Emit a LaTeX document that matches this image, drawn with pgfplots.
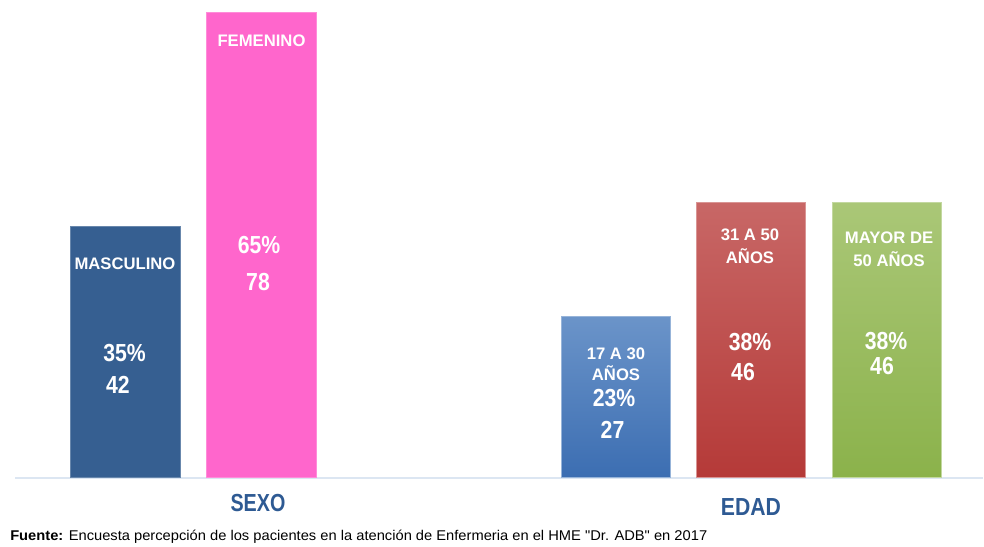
\documentclass[border=0pt]{standalone}
\usepackage{fontspec}
\setmainfont{Liberation Sans}
\newfontfamily\narrowfont[FakeStretch=0.86]{Liberation Sans}
\newfontfamily\titlefont[FakeStretch=0.80]{Liberation Sans}
\newfontfamily\footfont[FakeStretch=1.04]{Liberation Sans}
\usepackage{pgfplots}
\pgfplotsset{compat=1.18}
\definecolor{masc}{HTML}{365F91}
\definecolor{fem}{HTML}{FF66CC}
\definecolor{blueT}{HTML}{6B94C9}
\definecolor{blueB}{HTML}{3C6EB2}
\definecolor{redT}{HTML}{C86766}
\definecolor{redB}{HTML}{B53A38}
\definecolor{greenT}{HTML}{AAC777}
\definecolor{greenB}{HTML}{8BB24B}
\definecolor{axisblue}{HTML}{2E5A93}
\definecolor{baseline}{HTML}{DCE6F2}
\tikzset{
  lbl/.style={text=white, inner sep=0pt, font=\bfseries\fontsize{12.5}{14}\selectfont},
  num/.style={text=white, inner sep=0pt, font=\narrowfont\bfseries\fontsize{18.5}{20}\selectfont},
}
\begin{document}
\begin{tikzpicture}
\begin{axis}[
  scale only axis, width=738pt, height=409.5pt,
  xmin=0, xmax=984, ymin=-11.577, ymax=80.03,
  axis line style={draw=none}, ticks=none,
  clip=false,
]
\addplot[draw=baseline, line width=1.5pt, forget plot] coordinates {(15,-0.17) (983,-0.17)};
\addplot[ybar, bar width=110, bar shift=0pt, fill=masc, draw=masc!75!white, line width=0.6pt] coordinates {(125,42)};
\addplot[ybar, bar width=110, bar shift=0pt, fill=fem, draw=fem!75!white, line width=0.6pt] coordinates {(261.5,78)};
\addplot[ybar, bar width=109, bar shift=0pt, top color=blueT, bottom color=blueB, draw=blueT!70!white, line width=0.6pt] coordinates {(616,27)};
\addplot[ybar, bar width=109, bar shift=0pt, top color=redT, bottom color=redB, draw=redT!70!white, line width=0.6pt] coordinates {(751,46)};
\addplot[ybar, bar width=109, bar shift=0pt, top color=greenT, bottom color=greenB, draw=greenT!70!white, line width=0.6pt] coordinates {(886.5,46)};

% labels
\node[lbl] at (axis cs:125,35.74) {MASCULINO};
\node[num] at (axis cs:124.5,20.81) {35\%};
\node[num] at (axis cs:118,15.44) {42};
\node[lbl] at (axis cs:261.5,73.15) {FEMENINO};
\node[num] at (axis cs:259,38.93) {65\%};
\node[num] at (axis cs:258,32.72) {78};
\node[lbl] at (axis cs:616,20.64) {17 A 30};
\node[lbl] at (axis cs:616,17.45) {AÑOS};
\node[num] at (axis cs:614,13.26) {23\%};
\node[num] at (axis cs:612.5,7.89) {27};
\node[lbl] at (axis cs:750,40.60) {31 A 50};
\node[lbl] at (axis cs:750,37.08) {AÑOS};
\node[num] at (axis cs:750,22.65) {38\%};
\node[num] at (axis cs:743,17.62) {46};
\node[lbl] at (axis cs:889,40.10) {MAYOR DE};
\node[lbl] at (axis cs:889,36.58) {50 AÑOS};
\node[num] at (axis cs:886,22.85) {38\%};
\node[num] at (axis cs:882,18.70) {46};

\node[inner sep=0pt, text=axisblue, font=\titlefont\bfseries\fontsize{18.5}{20}\selectfont] at (axis cs:258,-4.36) {SEXO};
\node[inner sep=0pt, text=axisblue, font=\narrowfont\bfseries\fontsize{18.5}{20}\selectfont] at (axis cs:751,-5.03) {EDAD};
\node[inner sep=0pt, text=black, anchor=west, font=\footfont\fontsize{10.6}{12}\selectfont] at (axis cs:10,-10.07) {\textbf{Fuente:} Encuesta percepción de los pacientes en la atención de Enfermeria en el HME "Dr. ADB" en 2017};
\end{axis}
\end{tikzpicture}
\end{document}
